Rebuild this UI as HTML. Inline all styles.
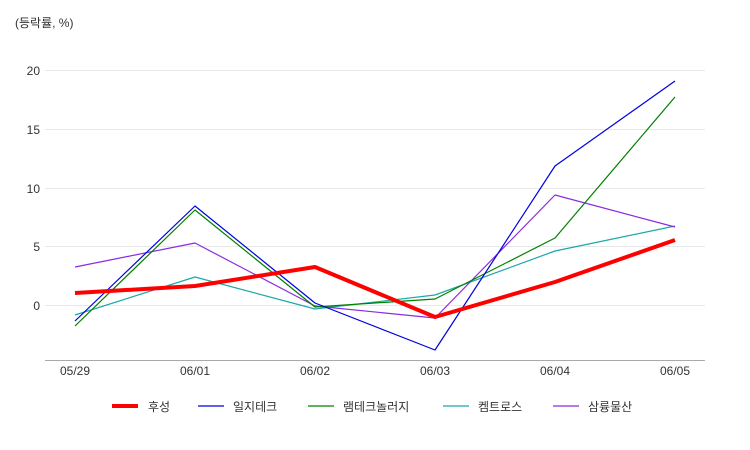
<!DOCTYPE html>
<html><head><meta charset="utf-8"><style>body{margin:0;background:#fff}svg{display:block}text{font-family:"Liberation Sans","Noto Sans CJK KR",sans-serif}</style></head><body>
<svg width="750" height="450" viewBox="0 0 750 450">
<text x="15" y="27" font-size="12" fill="#333">(등락률, %)</text>
<g stroke="#e8e8e8" stroke-width="1">
<line x1="45" y1="70.5" x2="705" y2="70.5"/><line x1="45" y1="129.5" x2="705" y2="129.5"/><line x1="45" y1="188.5" x2="705" y2="188.5"/><line x1="45" y1="246.5" x2="705" y2="246.5"/><line x1="45" y1="305.5" x2="705" y2="305.5"/>
</g>
<line x1="45" y1="360.5" x2="705" y2="360.5" stroke="#aaa"/>
<g font-size="12" fill="#333" text-anchor="end">
<text x="40" y="75">20</text><text x="40" y="134">15</text><text x="40" y="193">10</text><text x="40" y="251">5</text><text x="40" y="310">0</text>
</g>
<g font-size="12" fill="#333" text-anchor="middle">
<text x="75" y="375">05/29</text><text x="195" y="375">06/01</text><text x="315" y="375">06/02</text><text x="435" y="375">06/03</text><text x="555" y="375">06/04</text><text x="675" y="375">06/05</text>
</g>
<g fill="none" stroke-linejoin="round">
<polyline stroke="#1ca8a8" stroke-width="1.2" points="75,315 195,277 315,309 435,295 555,251 675,226"/>
<polyline stroke="#8a2be2" stroke-width="1.2" points="75,267 195,243 315,306 435,318 555,195 675,227"/>
<polyline stroke="#008000" stroke-width="1.2" points="75,326 195,210 315,307 435,299 555,238 675,97"/>
<polyline stroke="#0000e0" stroke-width="1.2" points="75,321 195,206 315,303 435,350 555,166 675,81"/>
<polyline stroke="#f00" stroke-width="4" points="75,293 195,286 315,267 435,317 555,282 675,240"/>
</g>
<g font-size="12" fill="#333">
<line x1="112" y1="406" x2="138" y2="406" stroke="#f00" stroke-width="4"/><text x="148" y="411">후성</text>
<line x1="198" y1="406" x2="224" y2="406" stroke="#0000e0" stroke-width="1.2"/><text x="233" y="411">일지테크</text>
<line x1="308" y1="406" x2="334" y2="406" stroke="#008000" stroke-width="1.2"/><text x="343" y="411">램테크놀러지</text>
<line x1="443" y1="406" x2="469" y2="406" stroke="#1ca8a8" stroke-width="1.2"/><text x="478" y="411">켐트로스</text>
<line x1="553" y1="406" x2="579" y2="406" stroke="#8a2be2" stroke-width="1.2"/><text x="588" y="411">삼륭물산</text>
</g>
</svg>
</body></html>
